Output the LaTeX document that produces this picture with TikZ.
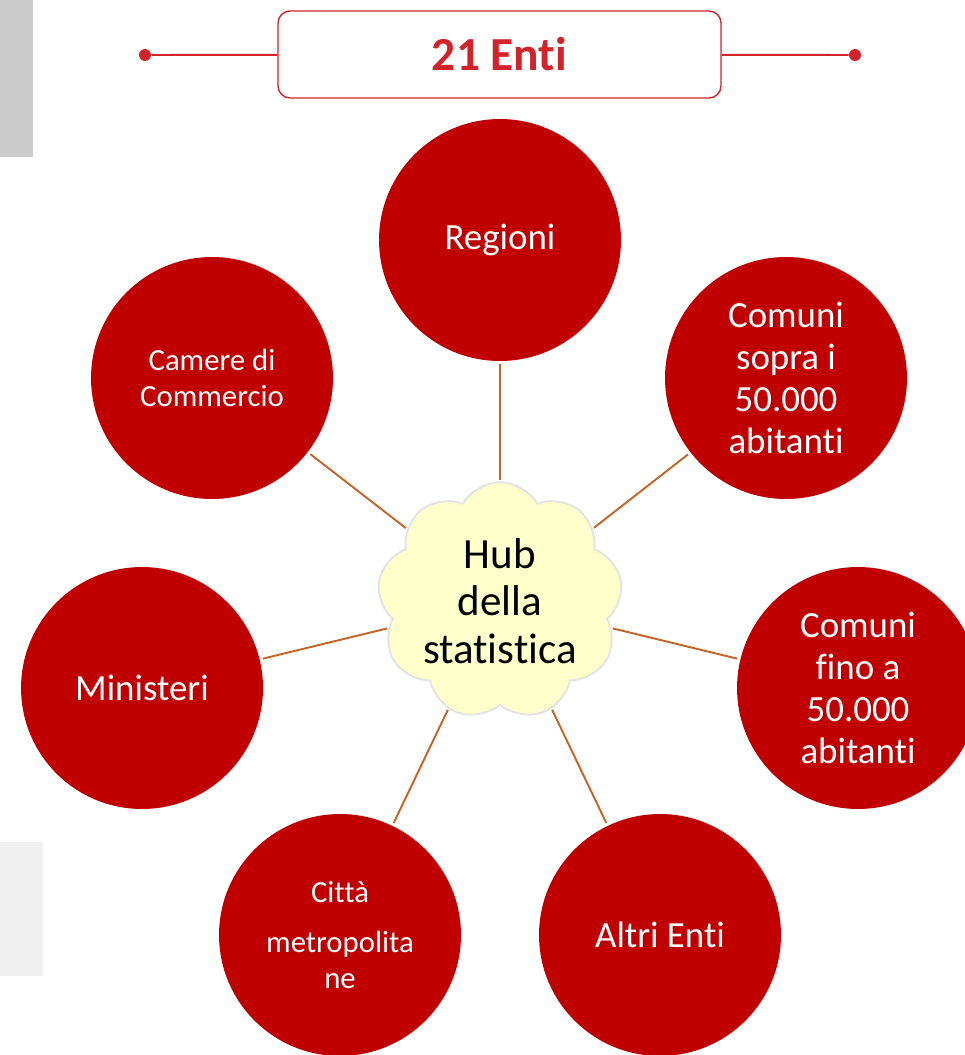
\documentclass[tikz,border=0pt]{standalone}
\usepackage{fontspec}
\setmainfont{Carlito}[Ligatures={NoCommon}]
\usetikzlibrary{shapes.symbols, positioning}
\definecolor{enteRed}{RGB}{192,0,0}
\definecolor{titleRed}{RGB}{210,35,42}
\definecolor{linkBrown}{RGB}{197,100,40}
\definecolor{hubYellow}{RGB}{255,255,204}

\begin{document}
\begin{tikzpicture}[
    x=0.02cm, y=-0.02cm,
    ente/.style={circle, fill=enteRed, text=white, minimum size=4.84cm, inner sep=0pt, align=center, font=\fontsize{21}{24}\selectfont},
    enteSmall/.style={ente, font=\fontsize{17.5}{20.5}\selectfont},
    hub/.style={cloud, cloud puffs=9, cloud puff arc=120, aspect=1.05, draw=gray!22, line width=1.1pt, fill=hubYellow, minimum width=4.88cm, minimum height=4.68cm, inner sep=0pt, align=center, font=\fontsize{24.5}{27}\selectfont},
    title/.style={rectangle, draw=titleRed, line width=0.8pt, rounded corners=6.8pt, minimum width=8.86cm, minimum height=1.74cm, text=titleRed, font=\fontsize{27}{30}\selectfont\bfseries},
    dot/.style={circle, fill=titleRed, inner sep=0pt, minimum size=0.24cm},
    link/.style={linkBrown, line width=1.1pt, shorten <=0.06cm, shorten >=0.02cm},
    rule/.style={titleRed, line width=1.1pt}
]
\useasboundingbox (0,0) rectangle (964,1055);

% Side bars
\fill[gray!40] (0,0) rectangle (33,157);
\fill[gray!12] (0,842) rectangle (43,976);

% Title
\node[title] (enti) at (499.5,54.5) {21 Enti};
\node[dot] (dotL) at (145,55) {};
\node[dot] (dotR) at (855,55) {};
\draw[rule] (dotL) -- (enti);
\draw[rule] (enti) -- (dotR);

% Hub
\node[hub] (hub) at (500,601) {Hub\\della\\statistica};

% Enti
\node[ente] (regioni) at (500,240) {Regioni};
\node[enteSmall] (camere) at (212,378) {Camere di\\Commercio};
\node[ente] (sopra) at (786,378) {Comuni\\sopra i\\50.000\\abitanti};
\node[ente] (ministeri) at (142,688) {Ministeri};
\node[ente] (fino) at (858,688) {Comuni\\fino a\\50.000\\abitanti};
\node[enteSmall] (citta) at (340,935) {Città\\[0.28cm]metropolita\\ne};
\node[ente] (altri) at (660,935) {Altri Enti};

% Links
\draw[link] (regioni) -- (hub);
\draw[link] (camere) -- (hub);
\draw[link] (sopra) -- (hub);
\draw[link] (ministeri) -- (hub);
\draw[link] (fino) -- (hub);
\draw[link] (citta) -- (hub);
\draw[link] (altri) -- (hub);

\end{tikzpicture}
\end{document}
